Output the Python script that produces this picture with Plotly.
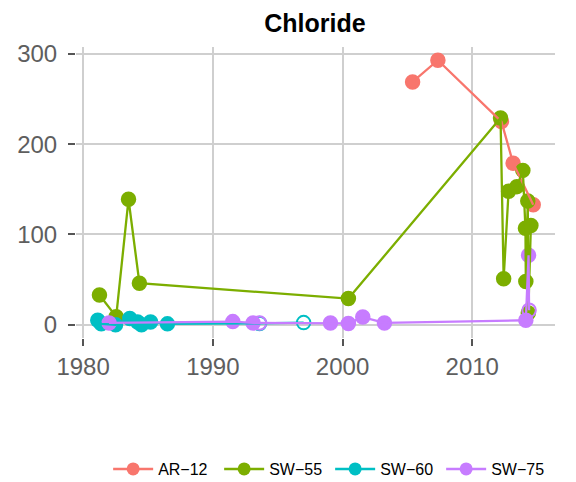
import plotly.graph_objects as go

# well / site names and ggplot default hue colours
sites = ["AR−12", "SW−55", "SW−60", "SW−75"]
colors = ["#F8766D", "#7CAE00", "#00BFC4", "#C77CFF"]

ar12_year = [2005.4, 2007.35, 2012.25, 2013.15, 2014.7]
ar12_cl = [269, 293, 225, 179, 133]
ar12_open = [0, 0, 0, 0, 0]

sw55_year = [1981.26, 1982.55, 1983.5, 1984.34, 2000.45, 2012.18, 2012.42, 2012.8,
             2013.44, 2013.9, 2014.1, 2014.13, 2014.28, 2014.32, 2014.52]
sw55_cl = [33, 9, 139, 46, 29, 229, 51, 148, 153, 171, 107, 48, 137, 13, 110]
sw55_open = [0] * 15

sw60_year = [1981.13, 1981.4, 1982.5, 1983.6, 1984.2, 1984.5, 1985.2, 1986.5, 1993.6, 1997.0]
sw60_cl = [5, 1, 0, 7, 3, 0, 3, 1, 1.5, 2.4]
sw60_open = [0, 0, 0, 0, 0, 0, 0, 0, 1, 1]

sw75_year = [1982.0, 1991.54, 1993.1, 1993.6, 1999.07, 2000.45, 2001.56, 2003.23,
             2014.13, 2014.34, 2014.38]
sw75_cl = [2, 3.5, 2, 2, 2, 1.5, 8.5, 2, 5, 77, 16]
sw75_open = [0, 0, 0, 1, 0, 0, 0, 0, 0, 0, 1]

years = [ar12_year, sw55_year, sw60_year, sw75_year]
values = [ar12_cl, sw55_cl, sw60_cl, sw75_cl]
hollow = [ar12_open, sw55_open, sw60_open, sw75_open]

FONT = "Liberation Sans, Arial, Helvetica, sans-serif"

fig = go.Figure()

# points first, lines drawn over them (as in the original)
for name, col, x, y, o in zip(sites, colors, years, values, hollow):
    fig.add_trace(go.Scatter(
        x=x, y=y, mode="markers", showlegend=False, hoverinfo="skip",
        marker=dict(color=col, size=13.5,
                    symbol=["circle-open" if h else "circle" for h in o],
                    line=dict(color=col, width=2))))
for name, col, x, y in zip(sites, colors, years, values):
    fig.add_trace(go.Scatter(
        x=x, y=y, mode="lines", showlegend=False, hoverinfo="skip",
        line=dict(color=col, width=2.3)))
# legend entries only
for name, col in zip(sites, colors):
    fig.add_trace(go.Scatter(
        x=[None], y=[None], mode="lines+markers", name=name,
        line=dict(color=col, width=2.5), marker=dict(color=col, size=13)))

allx = [v for s in years for v in s]
ally = [v for s in values for v in s]
xpad = (max(allx) - min(allx)) * 0.05
ypad = (max(ally) - min(ally)) * 0.05

fig.update_xaxes(
    range=[min(allx) - xpad, max(allx) + xpad], tickvals=[1980, 1990, 2000, 2010],
    showgrid=True, gridcolor="#cfcfcf", gridwidth=2, zeroline=False, showline=False,
    ticks="outside", ticklen=7, tickwidth=2, tickcolor="#555555", automargin=False,
    tickfont=dict(family=FONT, size=24, color="#5e5e5e"))
fig.update_yaxes(
    range=[min(ally) - ypad, max(ally) + ypad], tickvals=[0, 100, 200, 300],
    showgrid=True, gridcolor="#cfcfcf", gridwidth=2, zeroline=False, showline=False,
    ticks="outside", ticklen=7, tickwidth=2, tickcolor="#555555", ticklabelstandoff=6,
    automargin=False, tickfont=dict(family=FONT, size=24, color="#5e5e5e"))

# the page body adds an 8px offset, so the figure is 8px smaller each way
fig.update_layout(
    width=568, height=474, template="simple_white",
    plot_bgcolor="white", paper_bgcolor="white",
    margin=dict(l=68, r=21, t=39, b=144),
    font=dict(family=FONT),
    title=dict(text="<b>Chloride</b>", x=0.5405, xanchor="center", y=0.967, yanchor="middle",
               yref="container", font=dict(family=FONT, size=25, color="black")),
    legend=dict(orientation="h", xref="container", yref="container",
                x=0.958, xanchor="right", y=0.0274, yanchor="middle",
                font=dict(family=FONT, size=16, color="black"), itemwidth=40,
                entrywidth=56, entrywidthmode="pixels"),
)

fig.write_html("out.html")
